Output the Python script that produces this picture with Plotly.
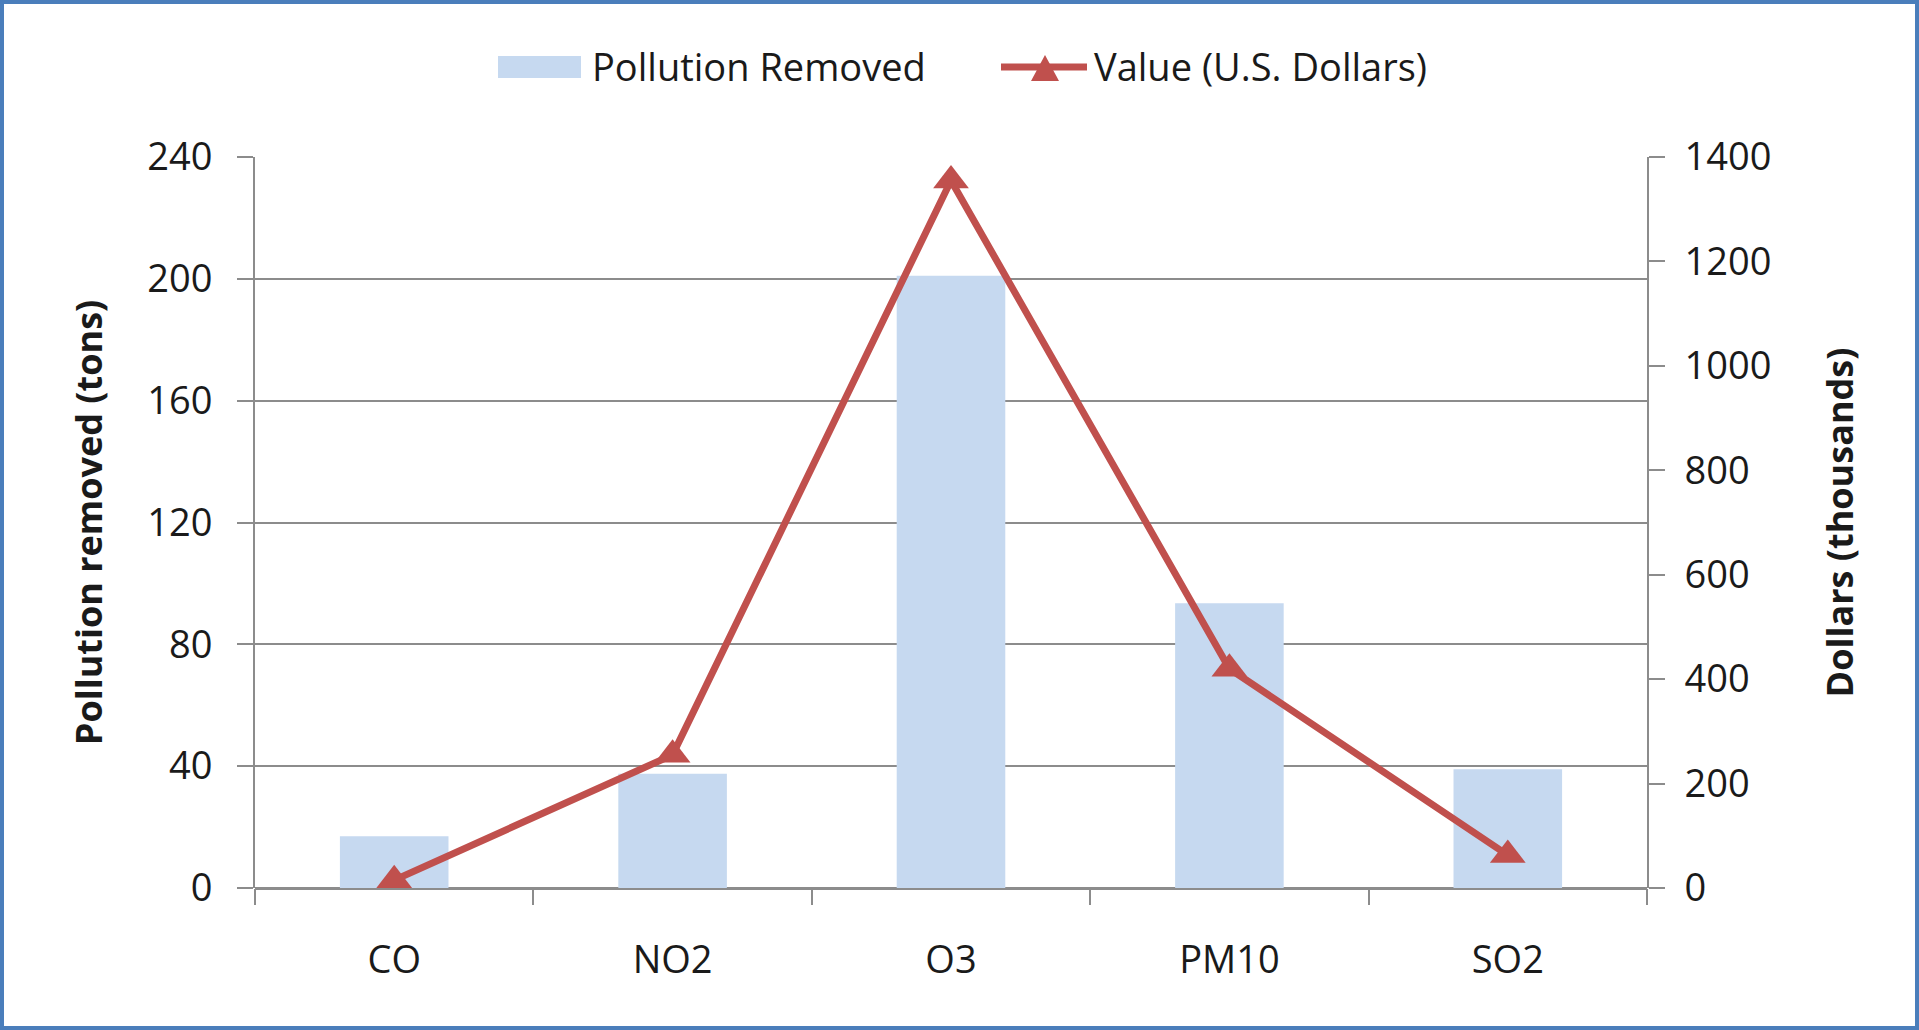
import plotly.graph_objects as go

pollutants = ["CO", "NO2", "O3", "PM10", "SO2"]
removed_tons = [17, 37.5, 201, 93.5, 39]
value_thousands = [15, 255, 1355, 420, 63]

series_names = ["Pollution Removed", "Value (U.S. Dollars)"]

W, H = 1919, 1030
L, R, T, B = 255, 272, 157, 142
pw, ph = W - L - R, H - T - B

def px(x):
    return (x - L) / pw

def py(y):
    return (H - B - y) / ph

FONT = "Open Sans"
GRID = "#8c8c8c"
BAR = "#c6d9f0"
RED = "#c0504d"

fig = go.Figure()

fig.add_trace(go.Bar(
    x=pollutants,
    y=removed_tons,
    name=series_names[0],
    marker=dict(color=BAR, line=dict(width=0)),
))

fig.add_trace(go.Scatter(
    x=pollutants,
    y=value_thousands,
    name=series_names[1],
    yaxis="y2",
    mode="lines+markers",
    line=dict(color=RED, width=7),
    marker=dict(symbol="triangle-up", size=31, color=RED),
))

# legend drawn by hand so the swatches look like the original
legend_shapes = [
    dict(type="rect", xref="paper", yref="paper",
         x0=px(498), x1=px(581), y0=py(78), y1=py(56),
         fillcolor=BAR, line=dict(width=0)),
    dict(type="line", xref="paper", yref="paper",
         x0=px(1001), x1=px(1087), y0=py(67), y1=py(67),
         line=dict(color=RED, width=7)),
    dict(type="path", xref="paper", yref="paper",
         path="M {a},{b} L {c},{b} L {d},{e} Z".format(
             a=px(1031), c=px(1059), b=py(81), d=px(1045), e=py(55)),
         fillcolor=RED, line=dict(width=0)),
    dict(type="rect", xref="paper", yref="paper",
         x0=px(2), x1=px(W - 2), y0=py(H - 2), y1=py(2),
         line=dict(color="#4a7ebb", width=4),
         fillcolor="rgba(0,0,0,0)", layer="above"),
]

legend_text = [
    dict(text=series_names[0], xref="paper", yref="paper",
         x=px(590), y=py(66), xanchor="left", yanchor="middle",
         showarrow=False, font=dict(size=38)),
    dict(text=series_names[1], xref="paper", yref="paper",
         x=px(1092), y=py(66), xanchor="left", yanchor="middle",
         showarrow=False, font=dict(size=38)),
]

fig.update_layout(
    width=W, height=H,
    margin=dict(l=L, r=R, t=T, b=B),
    paper_bgcolor="white",
    plot_bgcolor="white",
    font=dict(family=FONT, size=38, color="#1a1a1a"),
    bargap=0.61,
    showlegend=False,
    xaxis=dict(
        showgrid=False,
        showline=False,
        ticks="outside",
        tickson="boundaries",
        ticklen=16,
        tickwidth=2,
        tickcolor=GRID,
        ticklabelstandoff=46,
        tickfont=dict(size=38),
    ),
    yaxis=dict(
        range=[0, 240],
        dtick=40,
        showgrid=True,
        gridcolor=GRID,
        gridwidth=2,
        zeroline=True,
        zerolinecolor=GRID,
        zerolinewidth=3,
        showline=True,
        linecolor=GRID,
        linewidth=2,
        ticks="outside",
        ticklen=16,
        tickwidth=2,
        tickcolor=GRID,
        ticklabelstandoff=17,
        title=dict(text="<b>Pollution removed (tons)</b>", font=dict(size=36), standoff=34),
    ),
    yaxis2=dict(
        range=[0, 1400],
        dtick=200,
        overlaying="y",
        side="right",
        showgrid=False,
        zeroline=False,
        showline=True,
        linecolor=GRID,
        linewidth=2,
        ticks="outside",
        ticklen=16,
        tickwidth=2,
        tickcolor=GRID,
        ticklabelstandoff=12,
        title=dict(text="<b>Dollars (thousands)</b>", font=dict(size=36), standoff=57),
    ),
    shapes=legend_shapes,
    annotations=legend_text,
)

fig.write_html(
    "out.html",
    config={"displayModeBar": False},
    post_script="document.body.style.margin='0';document.body.style.overflow='hidden';",
)
